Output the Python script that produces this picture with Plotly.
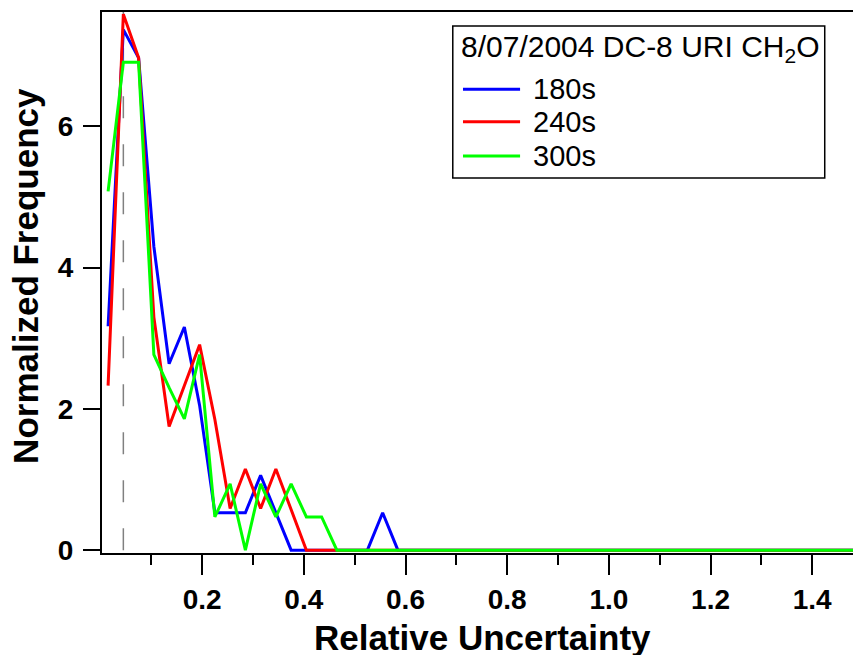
import plotly.graph_objects as go

# bin centres of the relative-uncertainty histogram
rel_unc = [0.015, 0.045, 0.075, 0.105, 0.135, 0.165, 0.195, 0.225, 0.255, 0.285,
           0.315, 0.345, 0.375, 0.405, 0.435, 0.465, 0.495, 0.525, 0.555, 0.585,
           0.615, 0.645, 0.675, 0.705, 0.735, 0.765, 0.795, 0.825, 0.855, 0.885,
           0.915, 0.945, 0.975, 1.005, 1.035, 1.065, 1.095, 1.125, 1.155, 1.185,
           1.215, 1.245, 1.275, 1.305, 1.335, 1.365, 1.395, 1.425, 1.455, 1.485]

# normalized frequency for each averaging time
freq_180s = [3.17, 7.37, 6.97, 4.30, 2.64, 3.16, 2.05, 0.53, 0.53, 0.53,
             1.06, 0.53, 0.0, 0.0, 0.0, 0.0, 0.0, 0.0, 0.53, 0.0,
             0.0, 0.0, 0.0, 0.0, 0.0, 0.0, 0.0, 0.0, 0.0, 0.0,
             0.0, 0.0, 0.0, 0.0, 0.0, 0.0, 0.0, 0.0, 0.0, 0.0,
             0.0, 0.0, 0.0, 0.0, 0.0, 0.0, 0.0, 0.0, 0.0, 0.0]
freq_240s = [2.33, 7.59, 6.97, 3.30, 1.75, 2.34, 2.91, 1.85, 0.59, 1.15,
             0.59, 1.15, 0.58, 0.0, 0.0, 0.0, 0.0, 0.0, 0.0, 0.0,
             0.0, 0.0, 0.0, 0.0, 0.0, 0.0, 0.0, 0.0, 0.0, 0.0,
             0.0, 0.0, 0.0, 0.0, 0.0, 0.0, 0.0, 0.0, 0.0, 0.0,
             0.0, 0.0, 0.0, 0.0, 0.0, 0.0, 0.0, 0.0, 0.0, 0.0]
freq_300s = [5.08, 6.91, 6.91, 2.77, 2.30, 1.86, 2.77, 0.47, 0.94, 0.0,
             0.94, 0.47, 0.94, 0.47, 0.47, 0.0, 0.0, 0.0, 0.0, 0.0,
             0.0, 0.0, 0.0, 0.0, 0.0, 0.0, 0.0, 0.0, 0.0, 0.0,
             0.0, 0.0, 0.0, 0.0, 0.0, 0.0, 0.0, 0.0, 0.0, 0.0,
             0.0, 0.0, 0.0, 0.0, 0.0, 0.0, 0.0, 0.0, 0.0, 0.0]

series_names = ['180s', '240s', '300s']
series_colors = ['#0000ff', '#ff0000', '#00ff00']
marker_unc = 0.045  # dashed reference line

legend_title = '8/07/2004 DC-8 URI CH<sub>2</sub>O'
x_title = 'Relative Uncertainty'
y_title = 'Normalized Frequency'

FONT = 'Liberation Sans, Arial, sans-serif'

fig = go.Figure()

for name, ys, col in zip(series_names, [freq_180s, freq_240s, freq_300s], series_colors):
    fig.add_trace(go.Scatter(x=rel_unc, y=ys, mode='lines', name=name,
                             line=dict(color=col, width=3), showlegend=False))

# dashed vertical line
fig.add_shape(type='line', xref='x', yref='y', x0=marker_unc, x1=marker_unc,
              y0=0, y1=7.62, layer='below',
              line=dict(color='#808080', width=1.5, dash='22px,26px'))

# hand-built legend box (Igor style)
fig.add_shape(type='rect', xref='paper', yref='paper', x0=0.464, x1=0.956,
              y0=0.693, y1=0.974, line=dict(color='black', width=1.5),
              fillcolor='white', layer='above')
fig.add_annotation(xref='paper', yref='paper', x=0.472, y=0.933, text=legend_title,
                   showarrow=False, xanchor='left', yanchor='middle',
                   font=dict(family=FONT, size=30, color='black'))
leg_y = [0.857, 0.797, 0.734]
for name, col, yy in zip(series_names, series_colors, leg_y):
    fig.add_shape(type='line', xref='paper', yref='paper', x0=0.4775, x1=0.553,
                  y0=yy, y1=yy, line=dict(color=col, width=3), layer='above')
    fig.add_annotation(xref='paper', yref='paper', x=0.568, y=yy, text=name,
                       showarrow=False, xanchor='left', yanchor='middle',
                       font=dict(family=FONT, size=29, color='black'))

tick_font = dict(family=FONT, size=28, color='black', weight='bold')
title_font = dict(family=FONT, size=35, color='black', weight='bold')

# axis titles placed as annotations so they sit exactly where Igor put them
fig.add_annotation(xref='paper', yref='paper', x=0.503, y=-0.157, text=x_title,
                   showarrow=False, xanchor='center', yanchor='middle',
                   font=title_font)
fig.add_annotation(xref='paper', yref='paper', x=-0.102, y=0.512, text=y_title,
                   showarrow=False, xanchor='center', yanchor='middle',
                   textangle=-90, font=title_font)

fig.update_xaxes(range=[0.003, 1.49], showgrid=False, zeroline=False,
                 showline=True, linecolor='black', linewidth=2, mirror=True,
                 ticks='outside', ticklen=20, tickwidth=1.5, tickcolor='black',
                 tick0=0, dtick=0.2, tickformat='.1f', tickfont=tick_font,
                 minor=dict(dtick=0.1, ticks='outside', ticklen=10, tickwidth=1.5,
                            tickcolor='black'),
                 automargin=False)
fig.update_yaxes(range=[-0.04, 7.62], showgrid=False, zeroline=False,
                 showline=True, linecolor='black', linewidth=2, mirror=False,
                 ticks='outside', ticklen=17, tickwidth=1.5, tickcolor='black',
                 tick0=0, dtick=2, tickfont=tick_font, automargin=False,
                 ticklabelstandoff=4)

# the page body adds an 8px margin, so the figure is 8px smaller and shifted
fig.update_layout(width=853, height=647, margin=dict(l=94, r=3, t=4, b=102),
                  plot_bgcolor='white', paper_bgcolor='white', showlegend=False)

fig.write_html("out.html")
